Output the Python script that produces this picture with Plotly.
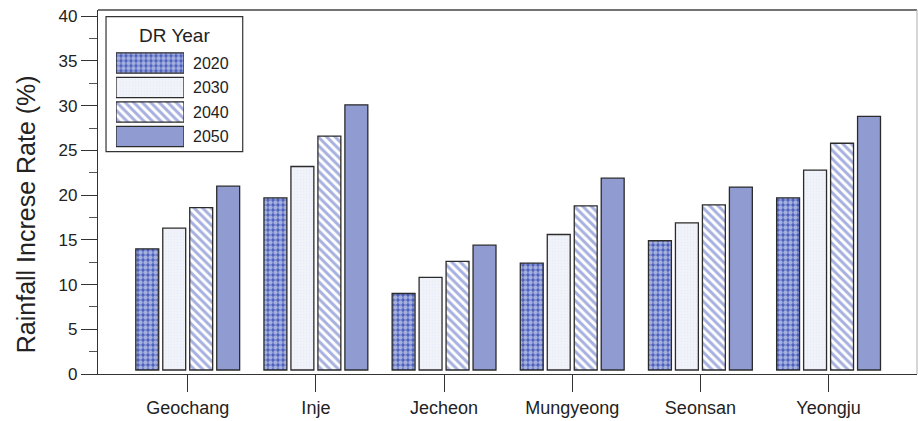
import plotly.graph_objects as go

# Rainfall increase rate (%) by station and design-rainfall year
stations = ["Geochang", "Inje", "Jecheon", "Mungyeong", "Seonsan", "Yeongju"]
years = ["2020", "2030", "2040", "2050"]
rate_2020 = [14.0, 19.7, 9.0, 12.4, 14.9, 19.7]
rate_2030 = [16.3, 23.2, 10.8, 15.6, 16.9, 22.8]
rate_2040 = [18.6, 26.6, 12.6, 18.8, 18.9, 25.8]
rate_2050 = [21.0, 30.1, 14.4, 21.9, 20.9, 28.8]
series = [rate_2020, rate_2030, rate_2040, rate_2050]

# bars sit slightly above the zero line
BAR_BASE = 0.45

FONT = "Liberation Sans, Arial, Helvetica, sans-serif"
TEXT = "#222222"
EDGE = "#2b2b2b"

styles = [
    dict(color="#4a5fbd", pattern=dict(shape=".", fgcolor="#ffffff", size=5,
                                        solidity=0.6, fillmode="overlay")),
    dict(color="#f2f4fa", pattern=dict(shape=".", fgcolor="#dfe3f1", size=3,
                                        solidity=0.3, fillmode="overlay")),
    dict(color="#ffffff", pattern=dict(shape="\\", fgcolor="#4f62c0", size=6,
                                        solidity=0.5, fillmode="overlay")),
    dict(color="#8f9bd1", pattern=dict(shape="")),
]

fig = go.Figure()

for yr, vals, st in zip(years, series, styles):
    fig.add_trace(go.Bar(
        x=stations,
        y=[v - BAR_BASE for v in vals],
        base=BAR_BASE,
        name=yr,
        showlegend=False,
        marker=dict(color=st["color"], pattern=st["pattern"],
                    line=dict(color=EDGE, width=1.3)),
        hovertemplate="%{x}, " + yr + ": %{customdata}%<extra></extra>",
        customdata=vals,
    ))

# legend swatches drawn as a small horizontal-bar inset
for yr, st in zip(years, styles):
    fig.add_trace(go.Bar(
        x=[1], y=[yr], orientation="h",
        xaxis="x2", yaxis="y2",
        width=0.83, offset=-0.415,
        showlegend=False, hoverinfo="skip",
        marker=dict(color=st["color"], pattern=st["pattern"],
                    line=dict(color=EDGE, width=1.3)),
    ))

fig.update_layout(
    width=918, height=421,
    margin=dict(l=98, r=1, t=10, b=47),
    paper_bgcolor="white", plot_bgcolor="white",
    barmode="group", bargap=0.158, bargroupgap=0.15,
    font=dict(family=FONT, color=TEXT, size=17),
    xaxis=dict(
        type="category", range=[-0.7, 5.69],
        showline=True, linecolor="#333333", linewidth=1.3,
        ticks="outside", ticklen=17, tickcolor="#333333", tickwidth=1,
        tickfont=dict(size=18), showgrid=False, zeroline=False,
    ),
    yaxis=dict(
        range=[0, 40.7], tickmode="linear", tick0=0, dtick=5,
        showline=True, linecolor="#333333", linewidth=1.3,
        ticks="outside", ticklen=16, tickcolor="#333333", tickwidth=1,
        minor=dict(dtick=2.5, ticks="outside", ticklen=8, tickcolor="#555555"),
        tickfont=dict(size=17), showgrid=False, zeroline=False,
    ),
    xaxis2=dict(domain=[0.022, 0.105], range=[0, 1], anchor="y2",
                visible=False, fixedrange=True),
    yaxis2=dict(domain=[0.619, 0.888], anchor="x2", side="right",
                type="category", categoryorder="array", categoryarray=years,
                autorange="reversed", showline=False, showgrid=False,
                zeroline=False, ticks="", ticklabelstandoff=8,
                tickfont=dict(size=16), fixedrange=True),
    shapes=[
        # legend frame
        dict(type="rect", xref="paper", yref="paper",
             x0=0.0098, x1=0.1767, y0=0.611, y1=0.982,
             line=dict(color="#333333", width=1.2), fillcolor="white",
             layer="below"),
        # top and right borders of the plot frame
        dict(type="line", xref="paper", yref="paper", x0=0, x1=1, y0=1, y1=1,
             line=dict(color="#444444", width=1.5)),
        dict(type="line", xref="paper", yref="paper", x0=1, x1=1, y0=0, y1=1,
             line=dict(color="#bbbbbb", width=1.2)),
    ],
    annotations=[
        dict(text="DR Year", xref="paper", yref="paper", x=0.094, y=0.929,
             showarrow=False, font=dict(size=19), xanchor="center",
             yanchor="middle"),
        # y-axis title
        dict(text="Rainfall Increse Rate (%)", xref="paper", yref="paper",
             x=-0.0885, y=0.4376, textangle=-90, showarrow=False,
             font=dict(size=25), xanchor="center", yanchor="middle"),
    ],
)

fig.write_html("out.html")
